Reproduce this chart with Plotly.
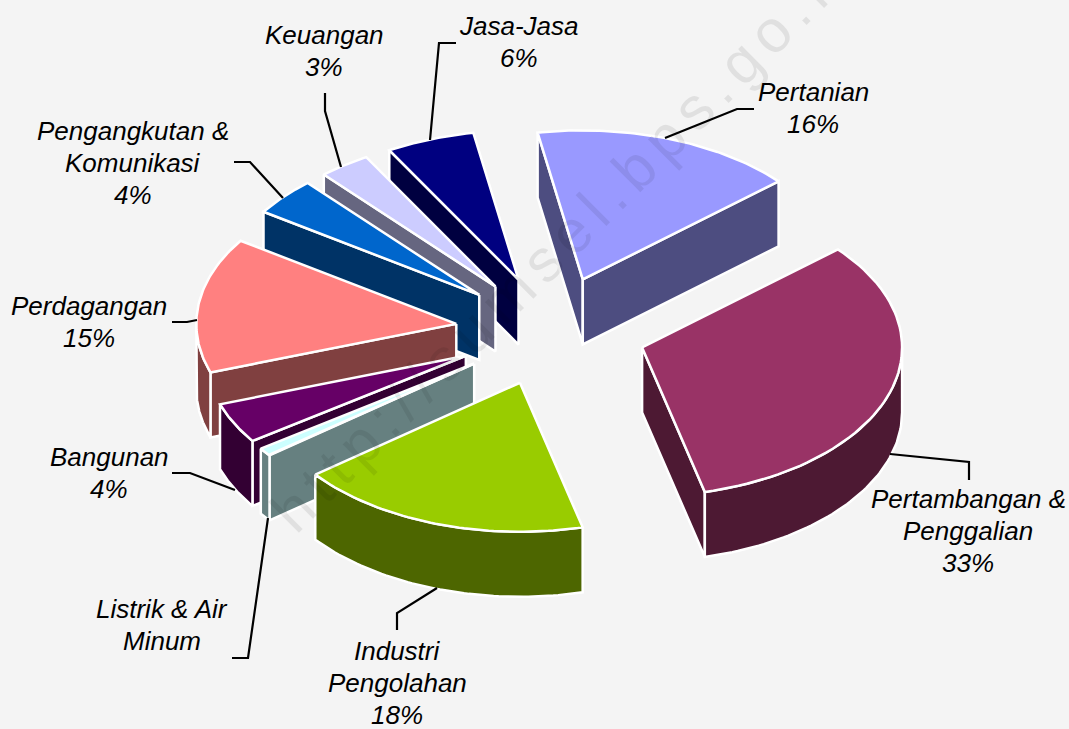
import math
import plotly.graph_objects as go

# --- data (share of total, %) ---
sectors = ["Pertanian", "Pertambangan & Penggalian", "Industri Pengolahan", "Listrik & Air Minum",
           "Bangunan", "Perdagangan", "Pengangkutan & Komunikasi", "Keuangan", "Jasa-Jasa"]
shares = [16.35, 32.55, 18.3, 0.9, 4.4, 14.7, 4.1, 3.2, 5.5]
label_lines = [["Pertanian"], ["Pertambangan &", "Penggalian"], ["Industri", "Pengolahan"], ["Listrik & Air", "Minum"],
               ["Bangunan"], ["Perdagangan"], ["Pengangkutan &", "Komunikasi"], ["Keuangan"], ["Jasa-Jasa"]]
show_percent = [True, True, True, False, True, True, True, True, True]
watermark = "http://sumsel.bps.go.id"

# --- style ---
top_colors = ["#9999FF", "#993366", "#99CC00", "#CCFFFF", "#660066", "#FF8080", "#0066CC", "#CCCCFF", "#000080"]
side_colors = ["#4D4D80", "#4D1933", "#4D6600", "#668080", "#330033", "#804040", "#003366", "#666680", "#000040"]
BG = "#F4F4F4"
W, H = 1069, 729

# --- projection of the exploded tilted pie ---
CX, CY = 551, 331
RX, RY = 260, 149
EXPLODE = 95.5
DEPTH = 65
START = -100.0
TILT = RY / RX

# --- label placement ---
LINE_STEP = 32
label_pos = [(813, 108), (968, 531), (397, 683), (162, 625), (109, 473), (89, 322), (133, 163), (324, 51), (519, 42)]
leaders = [
    [(665, 138), (737, 109), (754, 109)],
    [(890, 454), (969, 462), (969, 480)],
    [(437, 588), (397, 613), (397, 630)],
    [(268, 518), (248, 658), (232, 658)],
    [(235, 490), (190, 473), (172, 473)],
    [(197, 320), (187, 322), (172, 322)],
    [(283, 198), (250, 162), (234, 162)],
    [(341, 167), (325, 111), (325, 93)],
    [(430, 140), (439, 43), (456, 43)],
]

# --- watermark layout: letter-spaced text running up at 45 degrees ---
WM_SIZE = 60
WM_SPACING = 9
WM_U0 = -153
WM_V = 568
ADV = {"h": .556, "t": .278, "p": .556, ":": .278, "/": .278, "s": .5, "u": .556, "m": .833,
       "e": .556, "l": .222, ".": .278, "b": .556, "g": .556, "o": .556, "i": .222, "d": .556}


def arc(ax, ay, t0, t1, dy=0.0, n=60):
    pts = []
    for i in range(n + 1):
        t = math.radians(t0 + (t1 - t0) * i / n)
        pts.append((ax + RX * math.cos(t), ay + RY * math.sin(t) + dy))
    return pts


def poly(fig, pts, color):
    xs = [p[0] for p in pts] + [pts[0][0]]
    ys = [p[1] for p in pts] + [pts[0][1]]
    fig.add_trace(go.Scatter(x=xs, y=ys, mode="lines", fill="toself", fillcolor=color,
                             line=dict(color="white", width=2.5, shape="linear"),
                             hoverinfo="skip", showlegend=False))


total = sum(shares)
slices = []
angle = START
for i, v in enumerate(shares):
    t0 = angle
    t1 = angle + v / total * 360
    angle = t1
    mid = math.radians((t0 + t1) / 2)
    ax = CX + EXPLODE * math.cos(mid)
    ay = CY + EXPLODE * TILT * math.sin(mid)
    slices.append((ay, i, t0, t1, ax))

fig = go.Figure()

for ay, i, t0, t1, ax in sorted(slices):
    r0, r1 = math.radians(t0), math.radians(t1)
    p0 = (ax + RX * math.cos(r0), ay + RY * math.sin(r0))
    p1 = (ax + RX * math.cos(r1), ay + RY * math.sin(r1))
    # start wall
    if math.cos(r0) < 0:
        poly(fig, [(ax, ay), p0, (p0[0], p0[1] + DEPTH), (ax, ay + DEPTH)], side_colors[i])
    # end wall
    if math.cos(r1) > 0:
        poly(fig, [(ax, ay), p1, (p1[0], p1[1] + DEPTH), (ax, ay + DEPTH)], side_colors[i])
    # outer wall: the part of the rim between 0 and 180 degrees faces the viewer
    for shift in (0, 360, -360):
        lo = max(t0 + shift, 0.0)
        hi = min(t1 + shift, 180.0)
        if hi > lo:
            poly(fig, arc(ax, ay, lo, hi) + arc(ax, ay, hi, lo, DEPTH), side_colors[i])
    # top face
    poly(fig, [(ax, ay)] + arc(ax, ay, t0, t1), top_colors[i])

for pts in leaders:
    fig.add_trace(go.Scatter(x=[p[0] for p in pts], y=[p[1] for p in pts], mode="lines",
                             line=dict(color="black", width=2.2), hoverinfo="skip", showlegend=False))

annotations = []

# watermark, one letter at a time because annotations have no letter spacing
u = WM_U0
for k, ch in enumerate(watermark):
    if k > 0:
        u += (ADV[watermark[k - 1]] + ADV[ch]) / 2 * WM_SIZE + WM_SPACING
    px = (WM_V + u) / math.sqrt(2)
    py = (WM_V - u) / math.sqrt(2)
    if py < -15:
        continue
    annotations.append(dict(x=px / W, y=1 - py / H, xref="paper", yref="paper", xanchor="center", yanchor="middle",
                            showarrow=False, textangle=-45, text=ch,
                            font=dict(family="Liberation Sans", size=WM_SIZE, color="rgba(0,0,0,0.08)")))

for i, lines in enumerate(label_lines):
    text_lines = list(lines)
    if show_percent[i]:
        text_lines.append(f"{round(shares[i])}%")
    n = len(text_lines)
    for k, line in enumerate(text_lines):
        annotations.append(dict(x=label_pos[i][0], y=label_pos[i][1] + (k - (n - 1) / 2) * LINE_STEP,
                                xref="x", yref="y", showarrow=False, text=line, align="center",
                                font=dict(family="Liberation Sans", size=26, color="black", style="italic")))

fig.update_layout(
    width=W, height=H,
    margin=dict(l=0, r=0, t=0, b=0),
    paper_bgcolor=BG, plot_bgcolor=BG,
    xaxis=dict(range=[0, W], visible=False, fixedrange=True),
    yaxis=dict(range=[H, 0], visible=False, fixedrange=True),
    annotations=annotations,
    showlegend=False,
)
fig.write_html("out.html", config={"displayModeBar": False},
               post_script="document.body.style.margin='0';document.body.style.overflow='hidden';")
